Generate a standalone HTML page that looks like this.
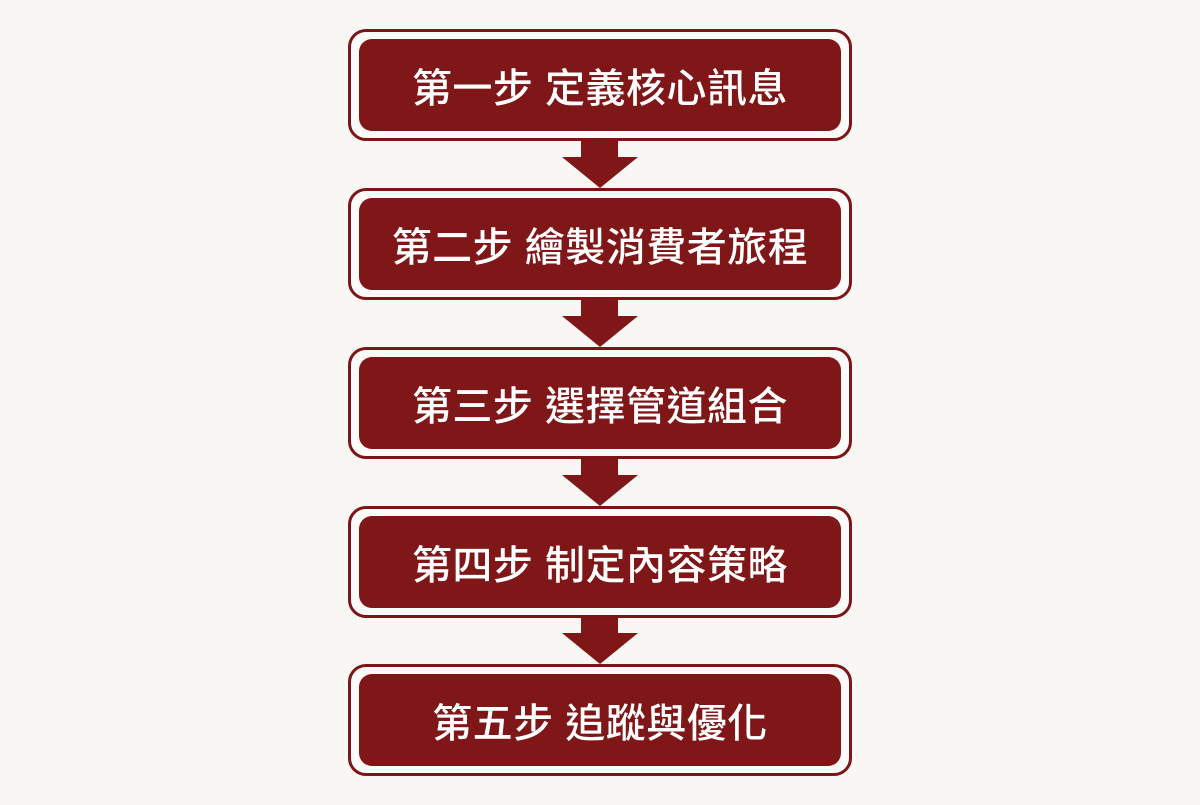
<!DOCTYPE html>
<html><head><meta charset="utf-8"><style>
body{margin:0;width:1200px;height:805px;background:#f8f7f4;position:relative;overflow:hidden;font-family:"Liberation Sans","Noto Sans CJK TC",sans-serif}
.o{position:absolute;left:348px;width:498px;height:106px;border:3px solid #7d1517;border-radius:18px;background:#fdfcfa}
.i{position:absolute;left:8px;top:7px;right:8px;bottom:7px;background:#7f1618;border-radius:13px;color:#fff;font-size:40px;font-weight:500;display:flex;align-items:center;justify-content:center;letter-spacing:0.5px}
</style></head><body>
<svg width="1200" height="805" style="position:absolute;left:0;top:0">
<g fill="#7f1618">
<polygon points="581,136 618,136 618,157 638,157 600,188 562,157 581,157"/>
<polygon points="581,295 618,295 618,316 638,316 600,347 562,316 581,316"/>
<polygon points="581,454 618,454 618,475 638,475 600,506 562,475 581,475"/>
<polygon points="581,612 618,612 618,633 638,633 600,664 562,633 581,633"/>
</g></svg>
<div class="o" style="top:29px"><div class="i">第一步 定義核心訊息</div></div>
<div class="o" style="top:188px"><div class="i">第二步 繪製消費者旅程</div></div>
<div class="o" style="top:347px"><div class="i">第三步 選擇管道組合</div></div>
<div class="o" style="top:506px"><div class="i">第四步 制定內容策略</div></div>
<div class="o" style="top:664px"><div class="i">第五步 追蹤與優化</div></div>
</body></html>
